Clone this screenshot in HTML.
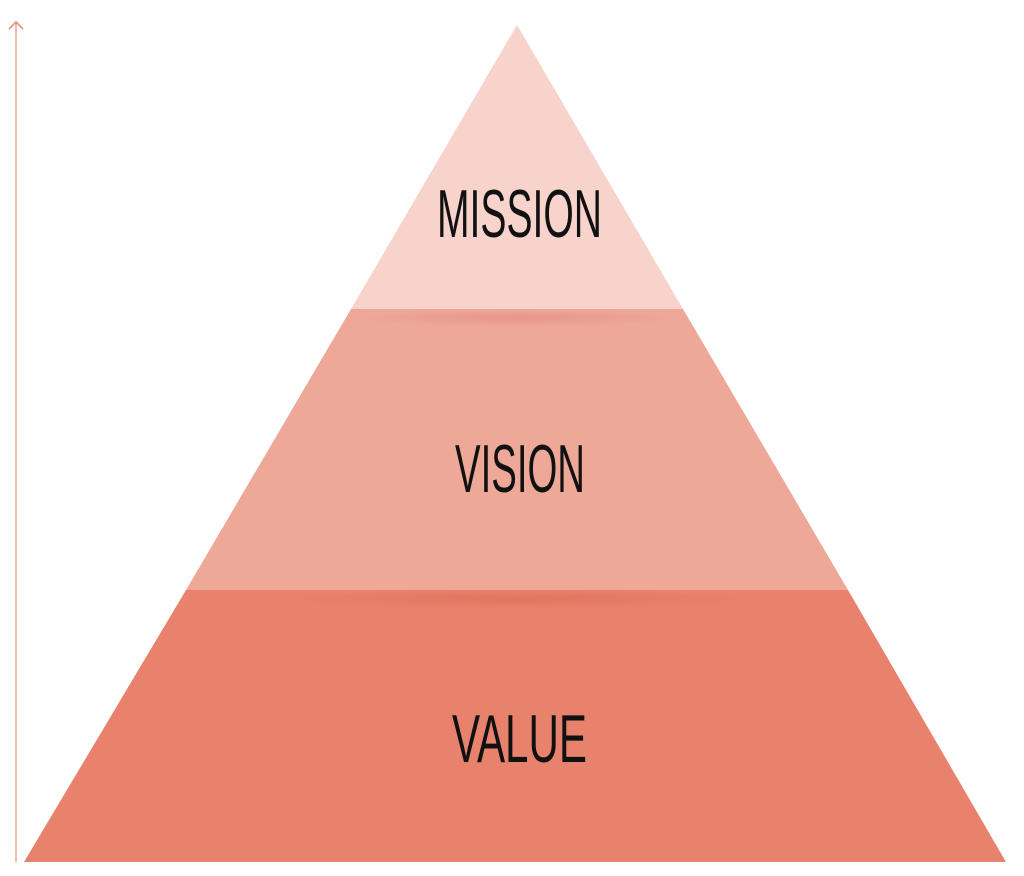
<!DOCTYPE html>
<html><head><meta charset="utf-8">
<style>html,body{margin:0;padding:0;background:#fff;width:1024px;height:876px;overflow:hidden}</style>
</head><body>
<svg width="1024" height="876" viewBox="0 0 1024 876" xmlns="http://www.w3.org/2000/svg">
<defs>
<radialGradient id="s1" cx="0.5" cy="0.5" r="0.5">
<stop offset="0" stop-color="#e08a7c" stop-opacity="0.6"/>
<stop offset="1" stop-color="#e08a7c" stop-opacity="0"/>
</radialGradient>
<radialGradient id="s2" cx="0.5" cy="0.5" r="0.5">
<stop offset="0" stop-color="#dc6a56" stop-opacity="0.6"/>
<stop offset="1" stop-color="#dc6a56" stop-opacity="0"/>
</radialGradient>
</defs>
<line x1="16" y1="22" x2="16" y2="862" stroke="#e9a99a" stroke-width="1.5"/>
<polyline points="9,29 16,22 23,29" fill="none" stroke="#e8836c" stroke-width="1.5"/>
<polygon points="517,25 351,309 683,309" fill="#f7d3cc"/>
<polygon points="351,309 683,309 848,590 186,590" fill="#eea898"/>
<polygon points="186,590 848,590 1006,862 24,862" fill="#e8826c"/>
<ellipse cx="517" cy="318" rx="160" ry="9" fill="url(#s1)"/>
<ellipse cx="517" cy="599" rx="230" ry="10" fill="url(#s2)"/>
<g font-family="Liberation Sans Narrow, Liberation Sans, sans-serif" font-size="68" fill="#111">
<text x="437" y="237" textLength="165" lengthAdjust="spacingAndGlyphs">MISSION</text>
<text x="455" y="492" textLength="130" lengthAdjust="spacingAndGlyphs">VISION</text>
<text x="452" y="762" textLength="135" lengthAdjust="spacingAndGlyphs">VALUE</text>
</g>
</svg>
</body></html>
